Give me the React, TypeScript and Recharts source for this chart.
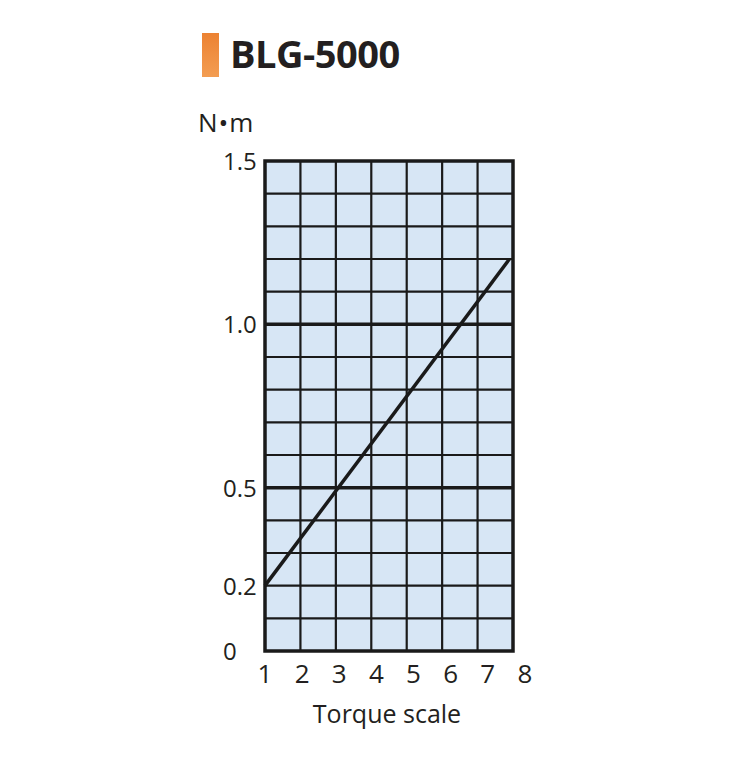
import { LineChart, Line, XAxis, YAxis, CartesianGrid, ReferenceLine, ReferenceArea } from 'recharts';

const title = 'BLG-5000';
const unitLabel = 'N•m';
const xLabel = 'Torque scale';

const xTicks = [1, 2, 3, 4, 5, 6, 7, 8];
const yTicks = [0, 0.2, 0.5, 1.0, 1.5];
const yGrid = [0.1, 0.2, 0.3, 0.4, 0.6, 0.7, 0.8, 0.9, 1.1, 1.2, 1.3, 1.4];
const xGrid = [2, 3, 4, 5, 6, 7];

const scaleValues = [1, 7.9];
const torqueValues = [0.2, 1.2];

const data = scaleValues.map((s, i) => ({ scale: s, torque: torqueValues[i] }));

const FONT = '"Open Sans", "Noto Sans", sans-serif';
const INK = '#231f20';

// labels in the original drift a little wider than the grid
function XTick(props: any) {
  const { x, y, payload } = props;
  const shift = (payload.value - 1) * 1.7;
  return (
    <text x={x + shift} y={y + 24} textAnchor="middle" fontSize={26} fill={INK} fontFamily={FONT}>
      {payload.value}
    </text>
  );
}

function YTick(props: any) {
  const { y, payload } = props;
  const v = payload.value;
  const label = v === 0 ? '0' : v.toFixed(1);
  return (
    <text x={215} y={y + 9} textAnchor="start" fontSize={24} fill={INK} fontFamily={FONT}>
      {label}
    </text>
  );
}

export default function App() {
  return (
    <div style={{ position: 'relative', width: 738, height: 752, fontFamily: FONT, color: INK }}>
      <div
        style={{
          position: 'absolute',
          left: 194,
          top: 25,
          width: 17,
          height: 44,
          background: 'linear-gradient(to bottom, #ec8232, #f39d52)',
        }}
      />
      <div
        style={{
          position: 'absolute',
          left: 222,
          top: 26,
          fontSize: 38,
          fontWeight: 700,
          lineHeight: 1,
          letterSpacing: -0.5,
          whiteSpace: 'nowrap',
        }}
      >
        {title}
      </div>
      <div
        style={{
          position: 'absolute',
          left: 190,
          top: 101,
          fontSize: 26,
          lineHeight: 1,
          letterSpacing: 1,
          whiteSpace: 'nowrap',
        }}
      >
        {unitLabel}
      </div>
      <div
        style={{
          position: 'absolute',
          left: 0,
          width: 758,
          top: 693,
          textAlign: 'center',
          fontSize: 25,
          lineHeight: 1,
          whiteSpace: 'nowrap',
        }}
      >
        {xLabel}
      </div>

      <LineChart width={738} height={752} data={data} margin={{ top: 153, right: 233, bottom: 79, left: 197 }}>
        <CartesianGrid
          fill="#d7e6f5"
          stroke="#1a1a1a"
          strokeWidth={2.2}
          horizontalValues={yGrid}
          verticalValues={xGrid}
        />
        <XAxis
          type="number"
          dataKey="scale"
          domain={[1, 8]}
          ticks={xTicks}
          axisLine={false}
          tickLine={false}
          height={30}
          tick={<XTick />}
        />
        <YAxis
          type="number"
          domain={[0, 1.5]}
          ticks={yTicks}
          axisLine={false}
          tickLine={false}
          width={60}
          tick={<YTick />}
        />
        <ReferenceLine y={0.5} stroke="#1a1a1a" strokeWidth={3.5} />
        <ReferenceLine y={1.0} stroke="#1a1a1a" strokeWidth={3.5} />
        <ReferenceArea x1={1} x2={8} y1={0} y2={1.5} fill="none" stroke="#1a1a1a" strokeWidth={3.5} />
        <Line
          type="linear"
          dataKey="torque"
          stroke="#1a1a1a"
          strokeWidth={3.5}
          dot={false}
          isAnimationActive={false}
        />
      </LineChart>
    </div>
  );
}
